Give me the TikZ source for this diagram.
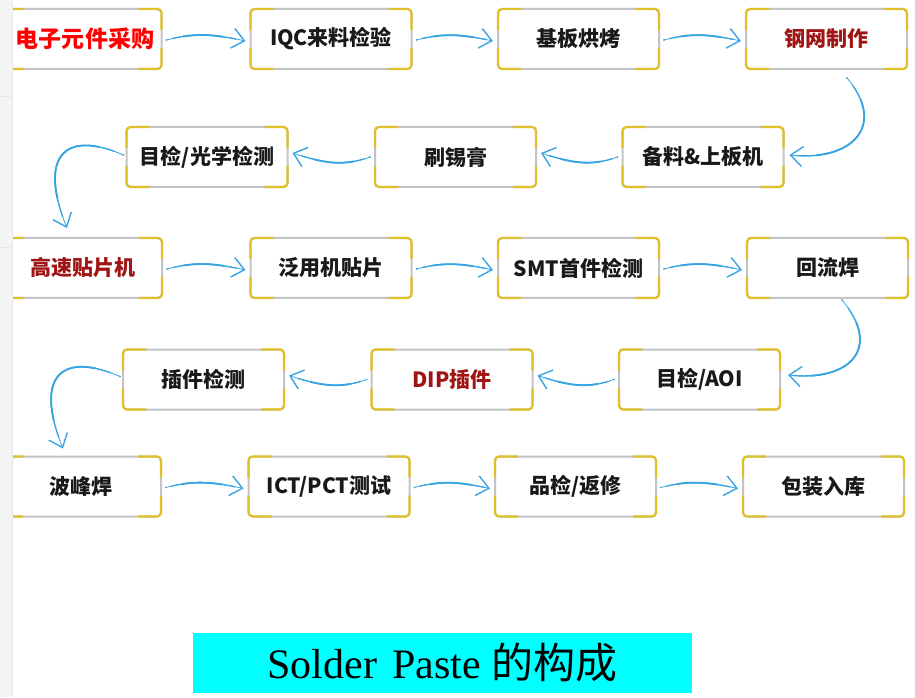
\documentclass[tikz,border=0pt]{standalone}
\usepackage{fontspec}
\setmainfont{Liberation Serif}
\newfontfamily\cjk{Noto Sans CJK SC}
\usetikzlibrary{arrows.meta,calc}
\definecolor{flowblue}{RGB}{55,165,225}
\definecolor{ygold}{RGB}{224,192,40}
\definecolor{bgray}{RGB}{196,196,196}
\definecolor{dred}{RGB}{160,20,20}
\definecolor{txt}{RGB}{25,25,25}
\definecolor{stripgray}{RGB}{244,244,244}
\definecolor{titlecyan}{RGB}{0,255,255}
\tikzset{
  flowline/.style={draw=flowblue, line cap=round},
  box/.style={draw=bgray, line width=2pt, fill=white, rounded corners=4pt,
    minimum width=161pt, minimum height=60pt, inner sep=0pt, outer sep=0pt,
    font=\cjk\bfseries\fontsize{21pt}{25pt}\selectfont, text=txt},
  ycorner/.style={draw=ygold, line width=2.2pt, rounded corners=4pt},
  hmid/.style={dash pattern=on 0pt off 6pt on 64pt off 999pt},
  hthick/.style={dash pattern=on 0pt off 17pt on 40pt off 999pt},
  cmid/.style={dash pattern=on 0pt off 10pt on 120pt off 999pt},
  cthick/.style={dash pattern=on 0pt off 26pt on 85pt off 999pt},
}
% #1 mid style, #2 thick style, #3 start, #4 path operation, #5 end
\newcommand\flow[5]{%
  \draw[flowline, line width=0.8pt, -{Straight Barb[length=12pt,width=20pt,line width=1.4pt]}] #3 #4 #5;
  \draw[flowline, line width=1.3pt, #1] #3 #4 #5;
  \draw[flowline, line width=1.8pt, #2] #3 #4 #5;
}
\newcommand\ycorners[1]{%
  \draw[ycorner] ($(#1.north west)+(23,0)$) -- (#1.north west) -- ($(#1.north west)+(0,-21)$);
  \draw[ycorner] ($(#1.north east)+(-23,0)$) -- (#1.north east) -- ($(#1.north east)+(0,-21)$);
  \draw[ycorner] ($(#1.south west)+(23,0)$) -- (#1.south west) -- ($(#1.south west)+(0,21)$);
  \draw[ycorner] ($(#1.south east)+(-23,0)$) -- (#1.south east) -- ($(#1.south east)+(0,21)$);
}
\begin{document}
\begin{tikzpicture}[x=1pt,y=1pt]
\useasboundingbox (0,0) rectangle (915,697);
\fill[white] (0,0) rectangle (915,697);
% row 1
\node[box, text=red, font=\cjk\bfseries\fontsize{23pt}{27pt}\selectfont] (n1) at (81,658) {\hspace*{8pt}电子元件采购};
\node[box] (n2) at (331,658) {IQC来料检验};
\node[box] (n3) at (578.5,658) {基板烘烤};
\node[box, text=dred] (n4) at (826.5,658) {钢网制作};
% row 2
\node[box] (n5) at (703,540) {备料\&上板机};
\node[box] (n6) at (455.5,540) {刷锡膏};
\node[box] (n7) at (207,540) {目检/光学检测};
% row 3
\node[box, text=dred] (n8) at (81.5,429) {\hspace*{4pt}高速贴片机};
\node[box] (n9) at (331,429) {泛用机贴片};
\node[box] (n10) at (578.5,429) {SMT首件检测};
\node[box] (n11) at (827.5,429) {回流焊};
% row 4
\node[box] (n12) at (699.5,317.5) {目检/AOI};
\node[box, text=dred] (n13) at (452,317.5) {DIP插件};
\node[box] (n14) at (203.5,317.5) {插件检测};
% row 5
\node[box] (n15) at (80.5,210.5) {波峰焊};
\node[box] (n16) at (329,210.5) {ICT/PCT测试};
\node[box] (n17) at (575.5,210.5) {品检/返修};
\node[box] (n18) at (823.5,210.5) {包装入库};
\foreach \i in {1,...,18} {\ycorners{n\i}}
% rightward connectors
\flow{hmid}{hthick}{($(n1.east)+(5,-1)$)}{to[out=15,in=168]}{($(n2.west)+(-5,-2)$)}
\flow{hmid}{hthick}{($(n2.east)+(5,-1)$)}{to[out=15,in=168]}{($(n3.west)+(-5,-2)$)}
\flow{hmid}{hthick}{($(n3.east)+(5,-1)$)}{to[out=15,in=168]}{($(n4.west)+(-5,-2)$)}
\flow{hmid}{hthick}{($(n8.east)+(5,-1)$)}{to[out=15,in=168]}{($(n9.west)+(-5,-2)$)}
\flow{hmid}{hthick}{($(n9.east)+(5,-1)$)}{to[out=15,in=168]}{($(n10.west)+(-5,-2)$)}
\flow{hmid}{hthick}{($(n10.east)+(5,-1)$)}{to[out=15,in=168]}{($(n11.west)+(-5,-2)$)}
\flow{hmid}{hthick}{($(n15.east)+(5,-1)$)}{to[out=15,in=168]}{($(n16.west)+(-5,-2)$)}
\flow{hmid}{hthick}{($(n16.east)+(5,-1)$)}{to[out=15,in=168]}{($(n17.west)+(-5,-2)$)}
\flow{hmid}{hthick}{($(n17.east)+(5,-1)$)}{to[out=15,in=168]}{($(n18.west)+(-5,-2)$)}
% leftward connectors
\flow{hmid}{hthick}{($(n5.west)+(-5,0)$)}{to[out=200,in=-18]}{($(n6.east)+(5,4)$)}
\flow{hmid}{hthick}{($(n6.west)+(-5,0)$)}{to[out=200,in=-18]}{($(n7.east)+(5,4)$)}
\flow{hmid}{hthick}{($(n12.west)+(-5,0)$)}{to[out=200,in=-18]}{($(n13.east)+(5,4)$)}
\flow{hmid}{hthick}{($(n13.west)+(-5,0)$)}{to[out=200,in=-18]}{($(n14.east)+(5,4)$)}
% right-side turns
\flow{cmid}{cthick}{($(n4.south)+(20.5,-9)$)}{.. controls +(41,-49) and +(61,-7) ..}{($(n5.east)+(6,2)$)}
\flow{cmid}{cthick}{($(n11.south)+(14.5,-2)$)}{.. controls +(41,-49) and +(61,-7) ..}{($(n12.east)+(8,4.5)$)}
% left-side turns
\flow{cmid}{cthick}{($(n7.west)+(-3,2)$)}{.. controls +(-60,26) and +(-29,71) ..}{($(n8.north)+(-14.5,10)$)}
\flow{cmid}{cthick}{($(n14.west)+(-3,3)$)}{.. controls +(-60,26) and +(-29,71) ..}{($(n15.north)+(-17.5,8)$)}
% left side panel
\fill[stripgray] (0,0) rectangle (12,697);
\draw[line width=0.6pt, black!9] (12,0) -- (12,697);
\draw[line width=0.6pt, black!9] (0,601) -- (12,601);
\draw[line width=0.6pt, black!9] (0,450) -- (12,450);
% title
\node[fill=titlecyan, minimum width=499pt, minimum height=60pt, inner sep=0pt,
      font=\fontsize{42pt}{50pt}\selectfont] (title) at (442.5,34)
  {Solder\hspace{15pt}Paste\hspace{11pt}{\cjk 的构成}};
\end{tikzpicture}
\end{document}
